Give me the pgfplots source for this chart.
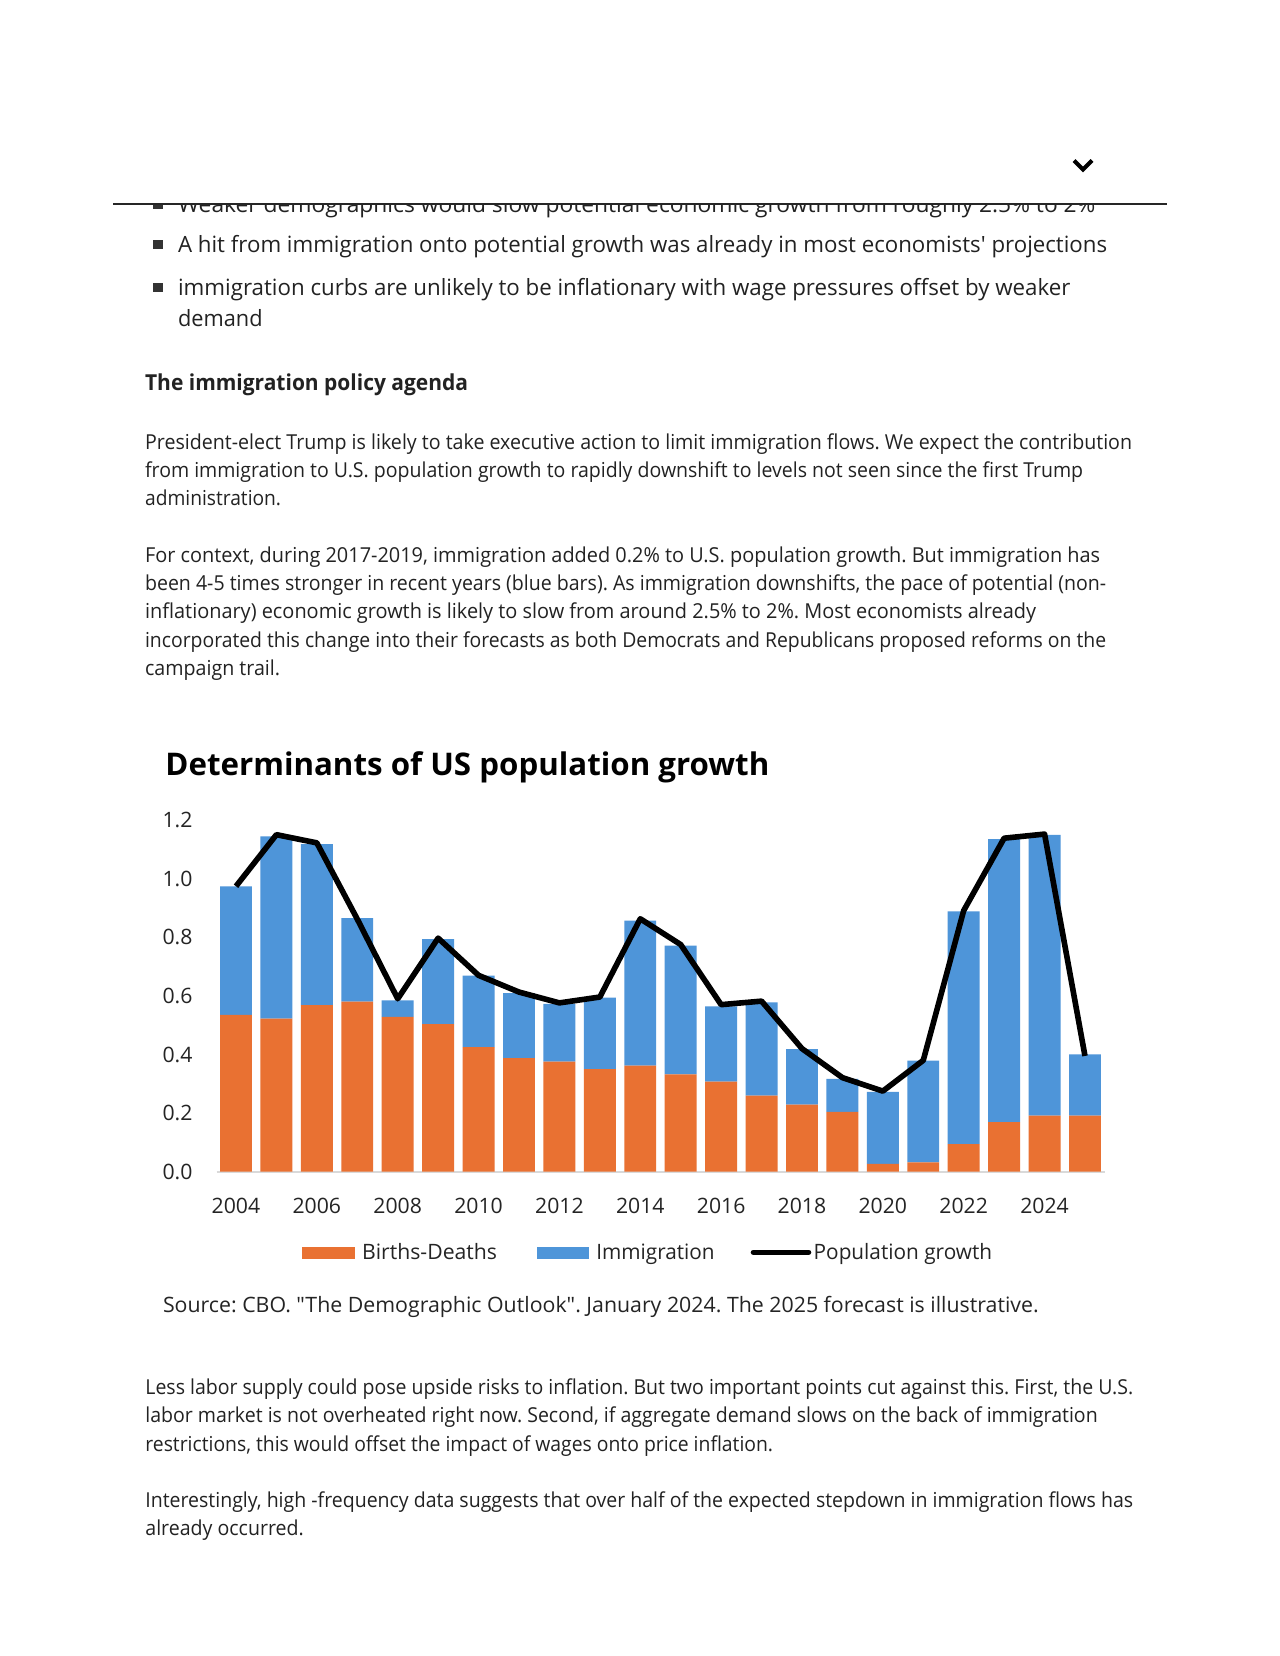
\documentclass[border=0pt]{standalone}
\usepackage{pgfplots}
\pgfplotsset{compat=1.18}
\usepackage{graphicx}
\usepackage{fontspec}
\setmainfont{Open Sans}[Ligatures=TeXOff]
\frenchspacing
\definecolor{bdorange}{HTML}{E97132}
\definecolor{immblue}{HTML}{4E95D9}
\definecolor{txt}{HTML}{222222}
\definecolor{ctxt}{HTML}{242424}
\newlength\pxu \setlength\pxu{0.5pt}
\newcommand\fbody{\fontsize{10.3}{12}\selectfont}
\newcommand\fbul{\fontsize{11.2}{13}\selectfont}
\newcommand\fhead{\fontsize{11}{13}\selectfont\bfseries}
\newcommand\ftitle{\fontsize{15.6}{18}\selectfont\bfseries}
\newcommand\fchart{\fontsize{10.6}{12}\selectfont}
\newcommand\tline[5]{\node[anchor=base west,inner sep=0pt,text=txt,font=#4] at (#1,#2) {\resizebox{#3\pxu}{\height}{#5}};}

\begin{document}
\begin{tikzpicture}[x=\pxu,y=-\pxu]
\fill[white] (0,0) rectangle (1280,1656);
\path[use as bounding box] (0,0) rectangle (1280,1656);

% header chevron and rule
\draw[line width=2pt,black] (1074,160.5) -- (1083,169.5) -- (1092,160.5);
\begin{scope}
\clip (0,205.5) rectangle (1280,260);
\tline{177.7}{212.3}{917.3}{\fbul}{Weaker demographics would slow potential economic growth from roughly 2.5\% to 2\%}
\fill[black!80] (153.3,199.6) rectangle (162.7,208.9);
\end{scope}
\draw[line width=1pt,black!85] (113,204) -- (1167,204);

% bullets
\fill[black!80] (153.3,240) rectangle (162.7,249.3);
\tline{177.7}{252.7}{929}{\fbul}{A hit from immigration onto potential growth was already in most economists' projections}
\fill[black!80] (153.3,282.7) rectangle (162.7,292);
\tline{177.7}{295.5}{892.3}{\fbul}{immigration curbs are unlikely to be inflationary with wage pressures offset by weaker}
\tline{177.7}{326.7}{84.5}{\fbul}{demand}

% heading
\tline{144.7}{390.7}{323}{\fhead}{The immigration policy agenda}

% paragraph 1
\tline{144.7}{449.3}{987}{\fbody}{President-elect Trump is likely to take executive action to limit immigration flows. We expect the contribution}
\tline{144.7}{477.5}{938}{\fbody}{from immigration to U.S. population growth to rapidly downshift to levels not seen since the first Trump}
\tline{144.7}{505.7}{136}{\fbody}{administration.}

% paragraph 2
\tline{144.7}{562.3}{955}{\fbody}{For context, during 2017-2019, immigration added 0.2\% to U.S. population growth. But immigration has}
\tline{144.7}{590.6}{961}{\fbody}{been 4-5 times stronger in recent years (blue bars). As immigration downshifts, the pace of potential (non-}
\tline{144.7}{618.9}{891}{\fbody}{inflationary) economic growth is likely to slow from around 2.5\% to 2\%. Most economists already}
\tline{144.7}{647.2}{961}{\fbody}{incorporated this change into their forecasts as both Democrats and Republicans proposed reforms on the}
\tline{144.7}{675.5}{135}{\fbody}{campaign trail.}

% chart title
\node[anchor=base west,inner sep=0pt,text=black,font=\ftitle] at (165,775.7) {\resizebox{604\pxu}{\height}{Determinants of US population growth}};

% chart: stacked bars
\begin{axis}[
  at={(108.35pt,-585.85pt)}, anchor=south west,
  scale only axis, width=444.15pt, height=175.85pt,
  xmin=2003.523, xmax=2025.495, ymin=0, ymax=1.2,
  ybar stacked, bar width=0.79,
  clip=false,
  axis line style={draw=none},
  major tick length=0pt,
  xtick={2004,2006,2008,2010,2012,2014,2016,2018,2020,2022,2024},
  ytick={0,0.2,0.4,0.6,0.8,1.0,1.2},
  tick label style={font=\fchart, text=ctxt, inner sep=0pt, /pgf/number format/assume math mode=true},
  xticklabel style={anchor=base, yshift=-20.8pt, /pgf/number format/1000 sep={}},
  yticklabel style={anchor=east, xshift=-11.9pt, /pgf/number format/.cd, fixed, fixed zerofill, precision=1},
]
\addplot[fill=bdorange, draw=none] coordinates {
(2004,0.535) (2005,0.522) (2006,0.568) (2007,0.580) (2008,0.528) (2009,0.504)
(2010,0.425) (2011,0.388) (2012,0.376) (2013,0.350) (2014,0.362) (2015,0.332)
(2016,0.307) (2017,0.260) (2018,0.229) (2019,0.204) (2020,0.027) (2021,0.032)
(2022,0.094) (2023,0.169) (2024,0.191) (2025,0.191)};
\addplot[fill=immblue, draw=none] coordinates {
(2004,0.439) (2005,0.622) (2006,0.550) (2007,0.285) (2008,0.057) (2009,0.290)
(2010,0.244) (2011,0.221) (2012,0.197) (2013,0.244) (2014,0.495) (2015,0.439)
(2016,0.257) (2017,0.318) (2018,0.189) (2019,0.113) (2020,0.245) (2021,0.347)
(2022,0.794) (2023,0.966) (2024,0.958) (2025,0.209)};
\draw[color=black!15, line width=1pt] (axis cs:2003.523,0) -- (axis cs:2025.495,0);
\end{axis}

% chart: population growth line
\begin{axis}[
  at={(108.35pt,-585.85pt)}, anchor=south west,
  scale only axis, width=444.15pt, height=175.85pt,
  xmin=2003.523, xmax=2025.495, ymin=0, ymax=1.2,
  hide axis, clip=false,
]
\addplot[black, line width=2.8pt, line join=round, mark=none] coordinates {
(2004,0.974) (2005,1.150) (2006,1.122) (2007,0.862) (2008,0.590) (2009,0.797)
(2010,0.670) (2011,0.613) (2012,0.576) (2013,0.596) (2014,0.863) (2015,0.775)
(2016,0.570) (2017,0.582) (2018,0.420) (2019,0.321) (2020,0.275) (2021,0.380)
(2022,0.891) (2023,1.138) (2024,1.152) (2025,0.395)};
\end{axis}

% legend
\fill[bdorange] (302.3,1246.7) rectangle (355,1259.3);
\node[anchor=base west,inner sep=0pt,text=ctxt,font=\fchart] at (361.7,1259.3) {\resizebox{135\pxu}{\height}{Births-Deaths}};
\fill[immblue] (536.7,1246.7) rectangle (589.3,1259.3);
\node[anchor=base west,inner sep=0pt,text=ctxt,font=\fchart] at (596,1259.3) {\resizebox{118.3\pxu}{\height}{Immigration}};
\draw[line width=2.8pt, line cap=round, black] (753.5,1252.3) -- (808.5,1252.3);
\node[anchor=base west,inner sep=0pt,text=ctxt,font=\fchart] at (813.3,1259.3) {\resizebox{178.4\pxu}{\height}{Population growth}};

% source
\node[anchor=base west,inner sep=0pt,text=ctxt,font=\fchart] at (162.6,1312.7) {\resizebox{875.7\pxu}{\height}{Source: CBO. "The Demographic Outlook". January 2024. The 2025 forecast is illustrative.}};

% paragraph 3
\tline{145}{1394}{987.7}{\fbody}{Less labor supply could pose upside risks to inflation. But two important points cut against this. First, the U.S.}
\tline{145}{1422.7}{952.3}{\fbody}{labor market is not overheated right now. Second, if aggregate demand slows on the back of immigration}
\tline{145}{1451.3}{627.7}{\fbody}{restrictions, this would offset the impact of wages onto price inflation.}

% paragraph 4
\tline{145}{1507.3}{987.7}{\fbody}{Interestingly, high -frequency data suggests that over half of the expected stepdown in immigration flows has}
\tline{145}{1535.7}{158.4}{\fbody}{already occurred.}
\end{tikzpicture}
\end{document}
